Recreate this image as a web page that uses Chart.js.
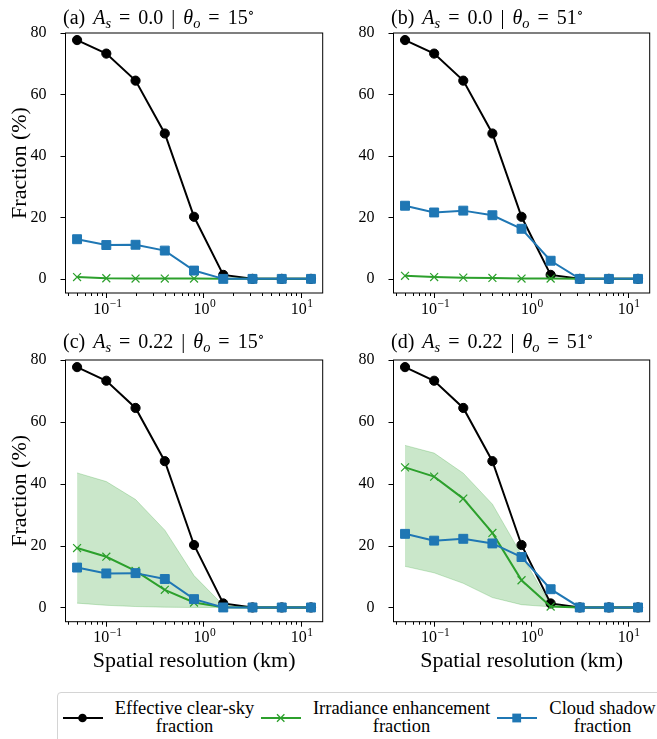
<!DOCTYPE html>
<html>
<head>
<meta charset="utf-8">
<script src="https://cdn.jsdelivr.net/npm/chart.js@4.4.1/dist/chart.umd.min.js"></script>
<style>
  html, body { margin: 0; padding: 0; background: #fff; }
  body { width: 657px; height: 739px; overflow: hidden; position: relative;
         font-family: 'Liberation Serif', 'DejaVu Serif', serif; color: #000; }
  canvas { position: absolute; }
  .ttl { position: absolute; font-size: 20px; line-height: 20px; white-space: nowrap; word-spacing: 3px; }
  .ttl sub { font-size: 0.72em; vertical-align: baseline; position: relative; top: 0.28em; }
  .ttl sup { font-size: 0.7em; vertical-align: baseline; position: relative; top: -0.5em; }
  #legend { position: absolute; left: 57px; top: 692px; width: 640px; height: 70px;
            border: 1px solid #d4d4d4; border-radius: 4px; background: #fff; }
  .lg-txt { position: absolute; width: 200px; text-align: center; font-size: 18.5px; line-height: 18px; }
  .lg-ico { position: absolute; }
</style>
</head>
<body>

<canvas id="pa"></canvas>
<canvas id="pb"></canvas>
<canvas id="pc"></canvas>
<canvas id="pd"></canvas>

<div class="ttl" style="left:63px;top:7px">(a) <i>A<sub>s</sub></i> = 0.0 | <i>θ<sub>o</sub></i> = 15<sup>∘</sup></div>
<div class="ttl" style="left:391px;top:7px">(b) <i>A<sub>s</sub></i> = 0.0 | <i>θ<sub>o</sub></i> = 51<sup>∘</sup></div>
<div class="ttl" style="left:63px;top:331px">(c) <i>A<sub>s</sub></i> = 0.22 | <i>θ<sub>o</sub></i> = 15<sup>∘</sup></div>
<div class="ttl" style="left:391px;top:331px">(d) <i>A<sub>s</sub></i> = 0.22 | <i>θ<sub>o</sub></i> = 51<sup>∘</sup></div>

<div id="legend"></div>

<script>
/* ── DATA ───────────────────────────────────────────────────────── */
const RES_KM     = [0.05, 0.1, 0.2, 0.4, 0.8, 1.6, 3.2, 6.4, 12.8];
const CLEAR_SKY  = [77.7, 73.3, 64.5, 47.3, 20.2, 1.3, 0, 0, 0];
const SHADOW_15  = [12.9, 11.0, 11.1, 9.2, 2.7, 0, 0, 0, 0];
const SHADOW_51  = [23.8, 21.6, 22.2, 20.7, 16.3, 5.9, 0, 0, 0];
const ENH_A      = [0.6, 0.2, 0.1, 0.1, 0.1, 0, 0, 0, 0];
const ENH_B      = [1.0, 0.6, 0.4, 0.3, 0.1, 0.1, 0, 0, 0];
const ENH_C      = [19.2, 16.4, 11.8, 5.7, 1.6, 0.1, 0, 0, 0];
const ENH_C_HI   = [43.5, 40.7, 34.9, 25.0, 10.3, 0.7, 0, 0, 0];
const ENH_C_LO   = [1.4, 0.7, 0.3, 0.1, 0, 0, 0, 0, 0];
const ENH_D      = [45.3, 42.3, 35.2, 24.1, 8.8, 0.3, 0, 0, 0];
const ENH_D_HI   = [52.4, 49.9, 43.4, 33.4, 17.0, 0.8, 0, 0, 0];
const ENH_D_LO   = [13.3, 11.2, 7.8, 3.2, 0.9, 0.2, 0, 0, 0];

const Y_TICKS     = [0, 20, 40, 60, 80];
const X_TICKS     = [0.1, 1, 10];
const X_TICK_EXP  = ['−1', '0', '1'];   // labels are 10^exp
const LEGEND_LABELS = [['Effective clear-sky', 'fraction'],
                       ['Irradiance enhancement', 'fraction'],
                       ['Cloud shadow', 'fraction']];

const BLACK = '#000000', GREEN = '#2ca02c', BLUE = '#1f77b4';
const BAND  = 'rgba(44,160,44,0.25)';
const FONT  = "'Liberation Serif', 'DejaVu Serif', serif";

const pts = arr => arr.map((v, i) => ({ x: RES_KM[i], y: v }));

/* ── FRAME + TICKS + 10^n LABELS (matplotlib look) ──────────────── */
const frameTicks = {
  id: 'frameTicks',
  afterDraw(chart) {
    const { ctx, chartArea: a, scales: { x, y } } = chart;
    ctx.save();
    ctx.strokeStyle = '#000';
    ctx.lineWidth = 1;
    ctx.strokeRect(a.left, a.top, a.right - a.left, a.bottom - a.top);
    ctx.beginPath();
    Y_TICKS.forEach(v => {
      const py = Math.round(y.getPixelForValue(v)) + 0.5;
      ctx.moveTo(a.left, py); ctx.lineTo(a.left - 5, py);
    });
    for (let d = -2; d <= 1; d++) {
      for (let k = 1; k <= 9; k++) {
        const v = k * Math.pow(10, d);
        if (v < x.min || v > x.max) continue;
        const px = Math.round(x.getPixelForValue(v)) + 0.5;
        ctx.moveTo(px, a.bottom);
        ctx.lineTo(px, a.bottom + (k === 1 ? 5 : 3));
      }
    }
    ctx.stroke();

    // tick labels 10^n with a raised exponent
    ctx.fillStyle = '#000';
    ctx.textBaseline = 'alphabetic';
    ctx.textAlign = 'left';
    const base = a.bottom + 20.5;
    X_TICKS.forEach((v, i) => {
      const px = x.getPixelForValue(v);
      ctx.font = `16px ${FONT}`;
      const w1 = ctx.measureText('10').width;
      ctx.font = `11.5px ${FONT}`;
      const w2 = ctx.measureText(X_TICK_EXP[i]).width;
      const start = px - (w1 + w2) / 2 + 1;
      ctx.font = `16px ${FONT}`;
      ctx.fillText('10', start, base);
      ctx.font = `11.5px ${FONT}`;
      ctx.fillText(X_TICK_EXP[i], start + w1 + 0.5, base - 6.5);
    });
    ctx.restore();
  }
};

/* ── PANEL FACTORY ──────────────────────────────────────────────── */
function makePanel(id, box, area, enh, shadow, band, showY, showX) {
  const cv = document.getElementById(id);
  cv.width = box.w; cv.height = box.h;
  cv.style.left = box.x + 'px'; cv.style.top = box.y + 'px';
  cv.style.width = box.w + 'px'; cv.style.height = box.h + 'px';

  const datasets = [
    { data: pts(shadow), borderColor: BLUE, backgroundColor: BLUE, borderWidth: 2,
      pointStyle: 'rect', pointRadius: 6.3, pointBorderWidth: 1, order: 1 },
    { data: pts(enh), borderColor: GREEN, backgroundColor: GREEN, borderWidth: 2,
      pointStyle: 'crossRot', pointRadius: 5.6, pointBorderWidth: 1.2, order: 2 },
    { data: pts(CLEAR_SKY), borderColor: BLACK, backgroundColor: BLACK, borderWidth: 2,
      pointStyle: 'circle', pointRadius: 4.6, pointBorderWidth: 1, order: 3 },
  ];
  if (band) {
    datasets.push(
      { data: pts(band[0]), borderColor: BAND, borderWidth: 1, backgroundColor: BAND,
        pointRadius: 0, fill: '+1', order: 5 },
      { data: pts(band[1]), borderColor: BAND, borderWidth: 1, backgroundColor: BAND,
        pointRadius: 0, fill: false, order: 4 }
    );
  }

  new Chart(cv, {
    type: 'line',
    data: { datasets },
    options: {
      responsive: false,
      animation: false,
      layout: { padding: { top: area.t, right: box.w - area.r, left: 0, bottom: 0 } },
      plugins: { legend: { display: false }, tooltip: { enabled: false } },
      elements: { line: { tension: 0 } },
      scales: {
        x: {
          type: 'logarithmic', min: 0.038, max: 16.9,
          grid: { display: false }, border: { display: false },
          afterBuildTicks: s => { s.ticks = X_TICKS.map(v => ({ value: v })); },
          afterFit: s => { s.height = box.h - area.b; },
          ticks: { display: false },
          title: {
            display: showX, text: 'Spatial resolution (km)', color: '#000',
            font: { family: FONT, size: 22 }, padding: { top: 0, bottom: 6 }
          }
        },
        y: {
          min: -4.6, max: 80,
          grid: { display: false }, border: { display: false },
          afterBuildTicks: s => { s.ticks = Y_TICKS.map(v => ({ value: v })); },
          afterFit: s => { s.width = area.l; },
          ticks: { padding: 11, color: '#000', font: { family: FONT, size: 16 } },
          title: {
            display: showY, text: 'Fraction (%)', color: '#000',
            font: { family: FONT, size: 22 }, padding: { top: 7, bottom: 0 }
          }
        }
      }
    },
    plugins: [frameTicks]
  });
}

makePanel('pa', { x: 0,   y: 0,   w: 330, h: 325 }, { l: 65.5, t: 33, r: 325, b: 293 },
          ENH_A, SHADOW_15, null, true, false);
makePanel('pb', { x: 330, y: 0,   w: 327, h: 325 }, { l: 63.5, t: 33, r: 325, b: 293 },
          ENH_B, SHADOW_51, null, false, false);
makePanel('pc', { x: 0,   y: 325, w: 330, h: 355 }, { l: 65.5, t: 35, r: 325, b: 296.7 },
          ENH_C, SHADOW_15, [ENH_C_HI, ENH_C_LO], true, true);
makePanel('pd', { x: 330, y: 325, w: 327, h: 355 }, { l: 63.5, t: 35, r: 325, b: 296.7 },
          ENH_D, SHADOW_51, [ENH_D_HI, ENH_D_LO], false, true);

/* ── LEGEND (HTML) ──────────────────────────────────────────────── */
(function buildLegend() {
  const icons = [
    `<line x1="0" y1="6" x2="40" y2="6" stroke="${BLACK}" stroke-width="2"/>
     <circle cx="19.5" cy="6" r="4.3" fill="${BLACK}"/>`,
    `<line x1="0" y1="6" x2="40" y2="6" stroke="${GREEN}" stroke-width="2"/>
     <path d="M16 2.3 L23.4 9.7 M23.4 2.3 L16 9.7" stroke="${GREEN}" stroke-width="1.3"/>`,
    `<line x1="0" y1="6" x2="40" y2="6" stroke="${BLUE}" stroke-width="2"/>
     <rect x="15.3" y="1.6" width="8.8" height="8.8" fill="${BLUE}"/>`
  ];
  const iconX = [63, 261, 497];
  const textC = [184.5, 401.5, 602.5];
  let html = '';
  LEGEND_LABELS.forEach((lines, i) => {
    html += `<svg class="lg-ico" width="40" height="12" style="left:${iconX[i]}px;top:712px">${icons[i]}</svg>`;
    html += `<div class="lg-txt" style="left:${textC[i] - 100}px;top:699px">${lines.join('<br>')}</div>`;
  });
  // icons/text are positioned against the page, so append to body
  document.body.insertAdjacentHTML('beforeend', html);
})();
</script>
</body>
</html>
